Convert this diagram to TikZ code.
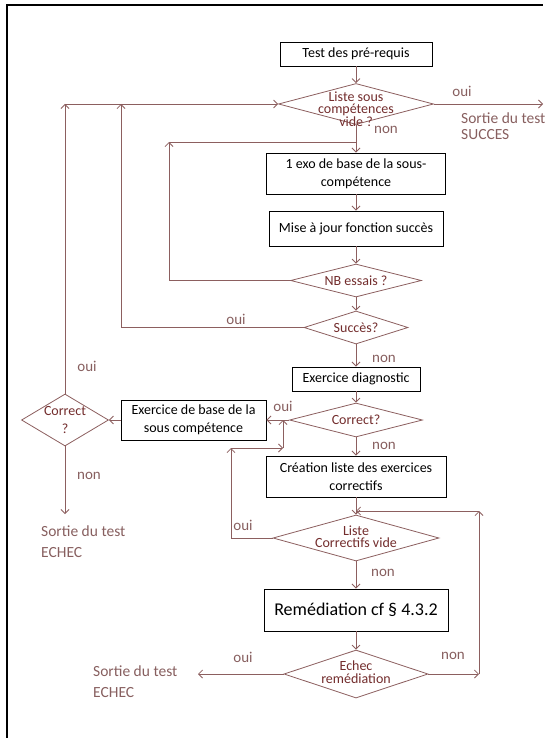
\documentclass[tikz,border=0pt]{standalone}
\usepackage{fontspec}
\setmainfont{Carlito}
\usetikzlibrary{shapes.geometric, arrows.meta}
\definecolor{flow}{RGB}{140,95,95}
\definecolor{qcol}{RGB}{115,45,45}
\definecolor{lcol}{RGB}{135,95,95}

\begin{document}
\begin{tikzpicture}[x=1pt, y=-1pt,
    every node/.style={font=\fontsize{14}{17.5}\selectfont},
    actbox/.style={draw, rectangle, fill=white, line width=0.9pt, align=center, inner sep=2pt},
    decision/.style={draw=flow, diamond, line width=0.8pt, fill=white, inner sep=0pt},
    qtext/.style={text=qcol, align=center, inner sep=0pt, font=\fontsize{14}{12.5}\selectfont},
    lbl/.style={text=lcol, inner sep=0pt, font=\fontsize{15}{18}\selectfont},
    exit/.style={text=lcol, inner sep=0pt, align=left, anchor=west, font=\fontsize{15.5}{21}\selectfont},
    arrow/.style={-{Straight Barb[length=4pt, width=8pt]}, draw=flow, line width=0.8pt},
    link/.style={draw=flow, line width=0.8pt}
]
    \useasboundingbox (0,0) rectangle (549,738);

    % Page frame
    \draw[line width=1.3pt] (7,738) -- (7,5) -- (543,5);

    % Action boxes
    \node (prereq) [actbox, minimum width=152pt, minimum height=24pt] at (356,54) {Test des pré-requis};
    \node (exo) [actbox, minimum width=179pt, minimum height=41pt, font=\fontsize{14}{18}\selectfont] at (356,173.5) {1 exo de base de la sous-\\compétence};
    \node (maj) [actbox, minimum width=174pt, minimum height=35pt] at (356,228.5) {Mise à jour fonction succès};
    \node (diag) [actbox, minimum width=128pt, minimum height=24pt] at (356,379) {Exercice diagnostic};
    \node (base) [actbox, minimum width=145pt, minimum height=40pt] at (193.5,420) {Exercice de base de la\\sous compétence};
    \node (creation) [actbox, minimum width=180pt, minimum height=41pt] at (356,476.5) {Création liste des exercices\\correctifs};
    \node (remed) [actbox, minimum width=184pt, minimum height=42pt, font=\fontsize{18}{22}\selectfont] at (356,610) {Remédiation cf § 4.3.2};

    % Decisions
    \node (vide) [decision, minimum width=155pt, minimum height=41pt] at (356,104) {};
    \node (essais) [decision, minimum width=131pt, minimum height=33pt] at (356,280.5) {};
    \node (succes) [decision, minimum width=104pt, minimum height=33pt] at (356,327.5) {};
    \node (correct) [decision, minimum width=133pt, minimum height=34pt] at (356,420) {};
    \node (correctL) [decision, minimum width=87pt, minimum height=52pt] at (65,420) {};
    \node (listevide) [decision, minimum width=166pt, minimum height=46pt] at (356,538) {};
    \node (echec) [decision, minimum width=144pt, minimum height=48pt] at (356,674) {};

    % Decision texts
    \node (videtxt) [qtext] at (356,109) {Liste sous\\compétences\\vide ?};
    \node (essaistxt) [qtext] at (356,280.5) {NB essais ?};
    \node (succestxt) [qtext] at (356,327.5) {Succès?};
    \node (correcttxt) [qtext] at (356,420) {Correct?};
    \node (correctLtxt) [qtext, font=\fontsize{14}{18}\selectfont] at (65,420) {Correct\\?};
    \node (listetxt) [qtext] at (356,536.5) {Liste\\Correctifs vide};
    \node (echectxt) [qtext] at (356,672) {Echec\\remédiation};

    % Free ends of connectors
    \coordinate (succesOut) at (543,104);
    \coordinate (topjoin) at (65,104);
    \coordinate (succesjoin) at (121,104);
    \coordinate (essaisjoin) at (169,142);
    \coordinate (echecOutL) at (65,514);
    \coordinate (listejoin) at (231,448);
    \coordinate (basejoin) at (283,448);
    \coordinate (echecOut) at (198,674);
    \coordinate (nonjoin) at (479,674);
    \coordinate (loopjoin) at (479,511);

    % Main column
    \draw [arrow] (prereq) -- (vide);
    \draw [arrow] (vide) -- (exo);
    \draw [arrow] (exo) -- (maj);
    \draw [arrow] (maj) -- (essais);
    \draw [arrow] (essais) -- (succes);
    \draw [arrow] (succes) -- (diag);
    \draw [arrow] (diag) -- (correct);
    \draw [arrow] (correct) -- (creation);
    \draw [arrow] (creation) -- (listevide);
    \draw [arrow] (listevide) -- (remed);
    \draw [arrow] (remed) -- (echec);

    % Loops back to the top
    \draw [arrow] (vide.east) -- (succesOut);
    \draw [arrow] (correctL.north) -- (topjoin);
    \draw [arrow] (topjoin) -- (vide.west);
    \draw [arrow] (succes.west) -| (succesjoin);
    \draw [arrow] (essais.west) -| (essaisjoin);
    \draw [link] (essaisjoin) -- (vide.south |- essaisjoin);

    % Left branch
    \draw [arrow] (correct.west) -- (base.east);
    \draw [arrow] (base.west) -- (correctL.east);
    \draw [arrow] (correctL.south) -- (echecOutL);
    \draw [arrow] (listevide.west) -| (listejoin);
    \draw [arrow] (listejoin) -- (basejoin);
    \draw [arrow] (basejoin) -- (basejoin |- base.east);

    % Remediation loop
    \draw [arrow] (echec.west) -- (echecOut);
    \draw [arrow] (echec.east) -- (nonjoin);
    \draw [arrow] (nonjoin) -- (loopjoin);
    \draw [arrow] (loopjoin) -- (creation.south |- loopjoin);

    % Labels
    \node (oui1) [lbl] at (462,91) {oui};
    \node (succesLbl) [exit, font=\fontsize{15.5}{16.5}\selectfont] at (461,126) {Sortie du test\\SUCCES};
    \node (non1) [lbl] at (386,130) {non};
    \node (oui2) [lbl] at (236,319) {oui};
    \node (non2) [lbl] at (384,359) {non};
    \node (oui3) [lbl] at (283,406) {oui};
    \node (non3) [lbl] at (384,446) {non};
    \node (oui4) [lbl] at (87,366) {oui};
    \node (non4) [lbl] at (89,476) {non};
    \node (echecLbl1) [exit] at (41,541.5) {Sortie du test\\ECHEC};
    \node (oui5) [lbl] at (243,525) {oui};
    \node (non5) [lbl] at (383,573) {non};
    \node (oui6) [lbl] at (243,657) {oui};
    \node (non6) [lbl] at (453,656) {non};
    \node (echecLbl2) [exit] at (93,681.5) {Sortie du test\\ECHEC};

\end{tikzpicture}
\end{document}
